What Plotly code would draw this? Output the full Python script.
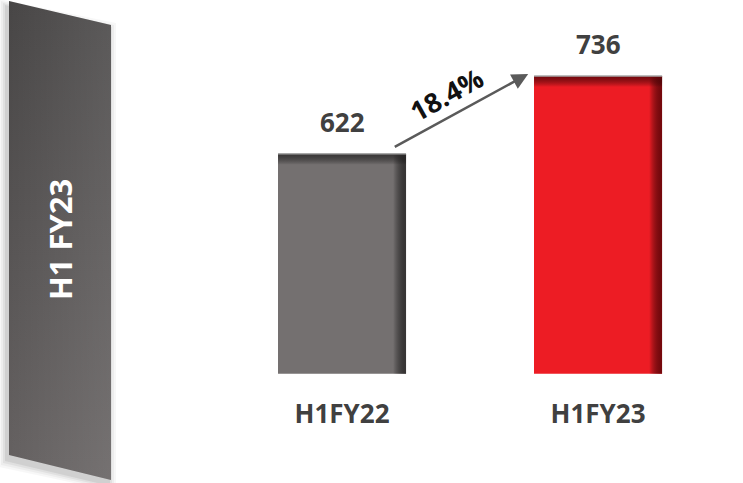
import plotly.graph_objects as go

# ---- data ----
categories = ["H1FY22", "H1FY23"]
values = [622, 736]
growth_label = "18.4%"
banner_label = "H1 FY23"

# ---- styling ----
bar_colors = ["#747070", "#ED1C24"]
edge_colors = ["rgba(45,43,43,0.85)", "rgba(105,6,10,0.9)"]
TEXT_GREY = "#404040"
FONT = "Open Sans"

W, H = 743, 483
AXIS_BOTTOM_PX = 373.7
Y_BASE, Y_TOP = 300, 847.3
X_RANGE = [-1.336, 1.566]
BAR_WIDTH = 0.5

PX_PER_X = W / (X_RANGE[1] - X_RANGE[0])
PX_PER_Y = AXIS_BOTTOM_PX / (Y_TOP - Y_BASE)

xpos = list(range(len(categories)))

fig = go.Figure()

# bars
fig.add_trace(go.Bar(
    x=xpos, y=values, width=BAR_WIDTH,
    marker=dict(color=bar_colors, line=dict(width=0)),
    hoverinfo="skip", showlegend=False,
))

# inner shading on each bar: darker right edge and top edge
for i, v in zip(xpos, values):
    right = i + BAR_WIDTH / 2
    left = i - BAR_WIDTH / 2
    x0 = right - 13 / PX_PER_X
    fig.add_trace(go.Scatter(
        x=[x0, right, right, x0, x0], y=[Y_BASE - 20, Y_BASE - 20, v, v, Y_BASE - 20],
        fill="toself", mode="none", hoverinfo="skip", showlegend=False,
        fillgradient=dict(type="horizontal",
                          colorscale=[[0, "rgba(0,0,0,0)"], [0.85, edge_colors[i]], [1, edge_colors[i]]]),
    ))
    y0 = v - 11 / PX_PER_Y
    fig.add_trace(go.Scatter(
        x=[left, right, right, left, left], y=[y0, y0, v, v, y0],
        fill="toself", mode="none", hoverinfo="skip", showlegend=False,
        fillgradient=dict(type="vertical",
                          colorscale=[[0, "rgba(0,0,0,0)"], [1, edge_colors[i]]]),
    ))
    fig.add_trace(go.Scatter(
        x=[left, right], y=[v, v], mode="lines",
        line=dict(color="#a8a8a8", width=1.5),
        hoverinfo="skip", showlegend=False,
    ))

# value labels
for i, v in zip(xpos, values):
    fig.add_annotation(
        x=i, y=v, text=str(v), showarrow=False, yanchor="bottom", yshift=12,
        font=dict(family=FONT, size=26, color=TEXT_GREY, weight=700),
    )

# growth arrow between bar tops
fig.add_annotation(
    x=xpos[1] - 0.273, y=values[1] + 3,
    ax=xpos[0] + 0.2, ay=values[0] + 9,
    xref="x", yref="y", axref="x", ayref="y",
    text="", showarrow=True, arrowhead=2, arrowsize=1.3,
    arrowwidth=2.5, arrowcolor="#5a5a5a",
)

# ---- left banner, drawn in pixel coordinates on an overlay subplot ----
banner_x = [9, 111, 111, 9, 9]
banner_y = [1, 25, 480, 455, 1]

for k, a in [(7, 0.03), (5, 0.04), (3, 0.05), (1, 0.07)]:
    fig.add_trace(go.Scatter(
        x=[9 - 3 - k, 111 - 2 + k, 111 - 2 + k, 9 - 3 - k, 9 - 3 - k],
        y=[1 + 5 - k, 25 + 5 - k, 480 + 5 + k, 455 + 5 + k, 1 + 5 - k],
        fill="toself", mode="none", fillcolor=f"rgba(0,0,0,{a})",
        xaxis="x2", yaxis="y2", hoverinfo="skip", showlegend=False,
    ))

fig.add_trace(go.Scatter(
    x=banner_x, y=banner_y, fill="toself", mode="none",
    fillgradient=dict(type="vertical", colorscale=[[0, "#666262"], [1, "#484646"]]),
    xaxis="x2", yaxis="y2", hoverinfo="skip", showlegend=False,
))
fig.add_trace(go.Scatter(
    x=banner_x, y=banner_y, fill="toself", mode="none",
    fillgradient=dict(type="horizontal",
                      colorscale=[[0, "rgba(255,255,255,0)"], [1, "rgba(255,255,255,0.1)"]]),
    xaxis="x2", yaxis="y2", hoverinfo="skip", showlegend=False,
))

fig.add_annotation(
    x=60, y=240, xref="x2", yref="y2", text=banner_label, textangle=-90,
    showarrow=False, font=dict(family=FONT, size=31, color="white", weight=700),
)

fig.add_annotation(
    x=446, y=94, xref="x2", yref="y2", text=growth_label, textangle=-29,
    showarrow=False, font=dict(family=FONT, size=27, color="#111111", weight=700),
)

fig.update_layout(
    width=W, height=H, autosize=False,
    margin=dict(l=0, r=0, t=0, b=0),
    paper_bgcolor="white", plot_bgcolor="rgba(0,0,0,0)",
    xaxis=dict(domain=[0, 1], range=X_RANGE, tickvals=xpos, ticktext=categories,
               showgrid=False, zeroline=False, showline=False, ticks="",
               ticklabelstandoff=22,
               tickfont=dict(family=FONT, size=26, color=TEXT_GREY, weight=700)),
    yaxis=dict(domain=[(H - AXIS_BOTTOM_PX) / H, 1], range=[Y_BASE, Y_TOP],
               visible=False, showgrid=False, zeroline=False),
    xaxis2=dict(domain=[0, 1], range=[0, W], anchor="y2", visible=False),
    yaxis2=dict(domain=[0, 1], range=[H, 0], anchor="x2", visible=False),
    bargap=0,
)

fig.write_html("out.html")
